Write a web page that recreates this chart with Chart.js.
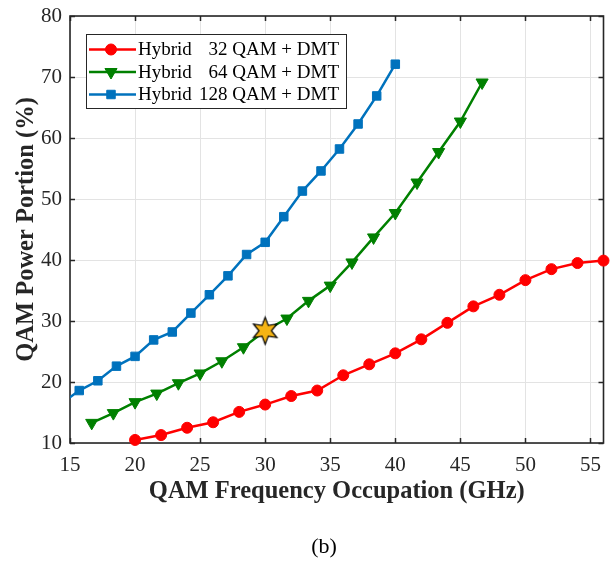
<!DOCTYPE html>
<html>
<head>
<meta charset="utf-8">
<script src="https://cdn.jsdelivr.net/npm/chart.js@4/dist/chart.umd.min.js"></script>
<style>
  html, body { margin: 0; padding: 0; background: #ffffff; }
  #wrap { width: 611px; height: 561px; position: relative; }
</style>
</head>
<body>
<div id="wrap"><canvas id="c" width="611" height="561"></canvas></div>
<script>
// ---------------- data ----------------
const xRed   = [20, 22, 24, 26, 28, 30, 32, 34, 36, 38, 40, 42, 44, 46, 48, 50, 52, 54, 56];
const yRed   = [10.5, 11.3, 12.5, 13.4, 15.1, 16.3, 17.7, 18.6, 21.1, 22.9, 24.7, 27.0, 29.7, 32.4, 34.3, 36.7, 38.5, 39.5, 39.9];

const xGreen = [16.67, 18.33, 20, 21.67, 23.33, 25, 26.67, 28.33, 30, 31.67, 33.33, 35, 36.67, 38.33, 40, 41.67, 43.33, 45, 46.67];
const yGreen = [13.3, 14.9, 16.7, 18.1, 19.8, 21.4, 23.4, 25.7, 28.4, 30.4, 33.3, 35.8, 39.6, 43.7, 47.7, 52.7, 57.7, 62.7, 69.1];

const xBlue  = [14.29, 15.71, 17.14, 18.57, 20, 21.43, 22.86, 24.29, 25.71, 27.14, 28.57, 30, 31.43, 32.86, 34.29, 35.71, 37.14, 38.57, 40];
const yBlue  = [16.4, 18.6, 20.2, 22.6, 24.2, 26.9, 28.2, 31.3, 34.3, 37.4, 40.9, 42.9, 47.1, 51.3, 54.6, 58.2, 62.3, 66.9, 72.1];

const starX = [30];
const starY = [28.4];

const seriesLabels = [
  ['Hybrid', '32 QAM + DMT'],
  ['Hybrid', '64 QAM + DMT'],
  ['Hybrid', '128 QAM + DMT']
];
const xTitle = 'QAM Frequency Occupation (GHz)';
const yTitle = 'QAM Power Portion (%)';
const subCaption = '(b)';

// ---------------- helpers ----------------
function pts(xs, ys) { return xs.map((x, i) => ({ x: x, y: ys[i] })); }

const SERIF = '"Liberation Serif", "Times New Roman", "DejaVu Serif", serif';
const RED = '#FF0000', GREEN = '#008000', BLUE = '#0072BD';
const PLOT_RIGHT = 603.5;

function makeStar(R, r, fill) {
  const c = document.createElement('canvas');
  const s = Math.ceil(R * 2 + 4);
  c.width = s; c.height = s;
  const g = c.getContext('2d');
  const cx = s / 2, cy = s / 2;
  g.beginPath();
  for (let i = 0; i < 12; i++) {
    const a = -Math.PI / 2 + i * Math.PI / 6;
    const rr = (i % 2 === 0) ? R : r;
    const px = cx + Math.cos(a) * rr, py = cy + Math.sin(a) * rr;
    if (i === 0) g.moveTo(px, py); else g.lineTo(px, py);
  }
  g.closePath();
  g.fillStyle = fill;
  g.fill();
  g.lineWidth = 1.2;
  g.strokeStyle = '#000000';
  g.lineJoin = 'miter';
  g.stroke();
  return c;
}
const starImg = makeStar(13.5, 6.2, '#F5B414');

function drawMarker(ctx, style, x, y, color) {
  ctx.save();
  ctx.fillStyle = color;
  ctx.strokeStyle = color;
  ctx.lineWidth = 1;
  ctx.beginPath();
  if (style === 'circle') {
    ctx.arc(x, y, 5.5, 0, Math.PI * 2);
  } else if (style === 'triangleDown') {
    const r = 7;
    ctx.moveTo(x, y + r);
    ctx.lineTo(x - r * Math.sqrt(3) / 2, y - r / 2);
    ctx.lineTo(x + r * Math.sqrt(3) / 2, y - r / 2);
    ctx.closePath();
  } else {
    const h = 6 * Math.SQRT1_2;
    ctx.rect(x - h, y - h, 2 * h, 2 * h);
  }
  ctx.fill();
  ctx.stroke();
  ctx.restore();
}

// pin the plot area's right edge (Chart.js reserves room for the last x label)
const areaPlugin = {
  id: 'pinArea',
  afterLayout(chart) {
    const a = chart.chartArea;
    const x = chart.scales.x;
    a.right = PLOT_RIGHT;
    a.width = a.right - a.left;
    x.right = PLOT_RIGHT;
    x.width = x.right - x.left;
    x.configure();
  }
};

// frame + inward ticks (drawn before datasets so markers overlay the box)
const framePlugin = {
  id: 'frame',
  beforeDatasetsDraw(chart) {
    const { ctx, chartArea: a, scales } = chart;
    ctx.save();
    ctx.strokeStyle = '#262626';
    ctx.lineWidth = 1.5;
    const tl = 5;
    ctx.beginPath();
    scales.x.ticks.forEach(t => {
      const px = Math.round(scales.x.getPixelForValue(t.value)) + 0.5;
      ctx.moveTo(px, a.bottom); ctx.lineTo(px, a.bottom - tl);
      ctx.moveTo(px, a.top); ctx.lineTo(px, a.top + tl);
    });
    scales.y.ticks.forEach(t => {
      const py = Math.round(scales.y.getPixelForValue(t.value)) + 0.5;
      ctx.moveTo(a.left, py); ctx.lineTo(a.left + tl, py);
      ctx.moveTo(a.right, py); ctx.lineTo(a.right - tl, py);
    });
    ctx.stroke();
    ctx.lineWidth = 1.6;
    ctx.strokeRect(a.left, a.top, a.right - a.left, a.bottom - a.top);
    ctx.restore();
  }
};

// legend box + caption
const legendPlugin = {
  id: 'matlabLegend',
  afterDraw(chart) {
    const ctx = chart.ctx;
    const bx = 86, by = 34, bw = 260, bh = 74;
    ctx.save();
    ctx.fillStyle = '#ffffff';
    ctx.fillRect(bx, by, bw, bh);
    ctx.strokeStyle = '#262626';
    ctx.lineWidth = 1;
    ctx.strokeRect(bx + 0.5, by + 0.5, bw, bh);
    const styles = ['circle', 'triangleDown', 'square'];
    const colors = [RED, GREEN, BLUE];
    const rowY = [49.5, 72, 94.5];
    ctx.font = '19px ' + SERIF;
    ctx.textBaseline = 'middle';
    for (let i = 0; i < 3; i++) {
      const y = rowY[i];
      ctx.strokeStyle = colors[i];
      ctx.lineWidth = 2.5;
      ctx.beginPath();
      ctx.moveTo(89, y); ctx.lineTo(136, y);
      ctx.stroke();
      drawMarker(ctx, styles[i], 111, y, colors[i]);
      ctx.fillStyle = '#000000';
      ctx.textAlign = 'left';
      ctx.fillText(seriesLabels[i][0], 138, y + 1);
      ctx.textAlign = 'right';
      ctx.fillText(seriesLabels[i][1], 339, y + 1);
    }
    // caption
    ctx.fillStyle = '#000000';
    ctx.textAlign = 'center';
    ctx.font = '22px ' + SERIF;
    ctx.fillText(subCaption, 324, 547);
    ctx.restore();
  }
};

new Chart(document.getElementById('c'), {
  type: 'scatter',
  data: {
    datasets: [
      {
        label: seriesLabels[0].join(' '),
        data: pts(xRed, yRed),
        showLine: true,
        borderColor: RED, backgroundColor: RED,
        borderWidth: 2.5,
        pointStyle: 'circle', pointRadius: 5.5, pointBorderWidth: 1,
        pointHoverRadius: 5.5,
        clip: 12, order: 3
      },
      {
        label: seriesLabels[1].join(' '),
        data: pts(xGreen, yGreen),
        showLine: true,
        borderColor: GREEN, backgroundColor: GREEN,
        borderWidth: 2.5,
        pointStyle: 'triangle', rotation: 180, pointRadius: 7, pointBorderWidth: 1,
        pointHoverRadius: 7,
        clip: 12, order: 2
      },
      {
        label: seriesLabels[2].join(' '),
        data: pts(xBlue, yBlue),
        showLine: true,
        borderColor: BLUE, backgroundColor: BLUE,
        borderWidth: 2.5,
        pointStyle: 'rect', pointRadius: 6, pointBorderWidth: 1,
        pointHoverRadius: 6,
        clip: 0, order: 1
      },
      {
        label: 'marker',
        data: pts(starX, starY),
        showLine: false,
        pointStyle: starImg,
        pointRadius: 14,
        clip: false, order: 0
      }
    ]
  },
  options: {
    responsive: false,
    animation: false,
    events: [],
    layout: { padding: { left: 0, top: 16, right: 0, bottom: 55 } },
    plugins: { legend: { display: false }, tooltip: { enabled: false } },
    scales: {
      x: {
        type: 'linear',
        min: 15, max: 56,
        border: { display: false },
        grid: { color: '#E3E3E3', lineWidth: 1, drawTicks: false },
        ticks: {
          stepSize: 5, includeBounds: false, padding: 10,
          color: '#262626', font: { family: SERIF, size: 21 }, maxRotation: 0
        },
        title: {
          display: true, text: xTitle, color: '#262626',
          font: { family: SERIF, size: 24.5, weight: 'bold' },
          padding: { top: 0, bottom: 0 }
        },
        afterFit(scale) {
          scale.height = 63;
          scale.paddingLeft = 0; scale.paddingRight = 0;
        }
      },
      y: {
        type: 'linear',
        min: 10, max: 80,
        border: { display: false },
        grid: { color: '#E3E3E3', lineWidth: 1, drawTicks: false },
        ticks: {
          stepSize: 10, padding: 8,
          color: '#262626', font: { family: SERIF, size: 21 }
        },
        title: {
          display: true, text: yTitle, color: '#262626',
          font: { family: SERIF, size: 24.5, weight: 'bold' },
          padding: { top: 12, bottom: 0 }
        },
        afterFit(scale) {
          scale.width = 70;
          scale.paddingTop = 0; scale.paddingBottom = 0;
        }
      }
    }
  },
  plugins: [areaPlugin, framePlugin, legendPlugin]
});
</script>
</body>
</html>
